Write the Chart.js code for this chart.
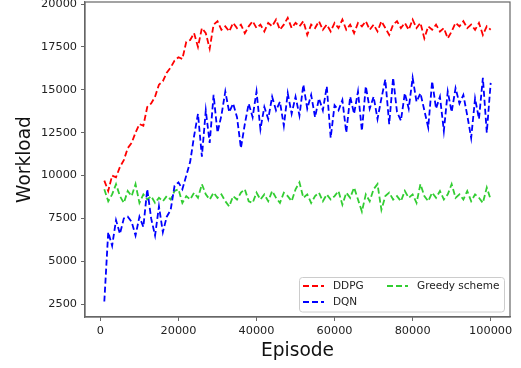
<!DOCTYPE html>
<html>
<head>
<meta charset="utf-8">
<script src="https://cdn.jsdelivr.net/npm/chart.js@4.4.1/dist/chart.umd.min.js"></script>
<style>
  html, body { margin:0; padding:0; background:#fff; }
  #wrap { width:521px; height:368px; }
</style>
</head>
<body>
<div id="wrap"><canvas id="c" width="521" height="368"></canvas></div>
<script>
const EPISODES = [
  1000,2000,3000,4000,5000,6000,7000,8000,9000,10000,
  11000,12000,13000,14000,15000,16000,17000,18000,19000,20000,
  21000,22000,23000,24000,25000,26000,27000,28000,29000,30000,
  31000,32000,33000,34000,35000,36000,37000,38000,39000,40000,
  41000,42000,43000,44000,45000,46000,47000,48000,49000,50000,
  51000,52000,53000,54000,55000,56000,57000,58000,59000,60000,
  61000,62000,63000,64000,65000,66000,67000,68000,69000,70000,
  71000,72000,73000,74000,75000,76000,77000,78000,79000,80000,
  81000,82000,83000,84000,85000,86000,87000,88000,89000,90000,
  91000,92000,93000,94000,95000,96000,97000,98000,99000,100000
];

const DDPG = [
  9700,9100,10000,9900,10500,10900,11600,11900,12500,13000,
  12900,14000,14200,14600,15300,15500,16000,16300,16700,16900,
  16800,17800,17900,18300,17500,18600,18300,17400,18800,19000,
  18500,18700,18400,18900,18600,18800,18300,18700,19000,18600,
  18800,18400,18900,18700,19100,18500,18800,19200,18600,18900,
  18700,19000,18200,18800,18600,19000,18500,18800,18400,18900,
  18600,19100,18500,18800,18300,18900,18700,19000,18500,18800,
  18400,19000,18600,18200,18800,19000,18600,18900,18500,19100,
  18600,18900,18000,18700,18500,18800,18400,18600,18000,18400,
  18900,18700,19000,18600,18800,18500,18900,18200,18700,18500
];

const DQN = [
  2650,6700,5900,7400,6600,7500,7600,7300,6500,7600,
  7000,9200,7500,6500,8200,6700,7600,8000,9400,9600,
  9200,10000,10800,12300,13600,11100,13800,11900,14700,12500,
  13500,14900,13700,14200,13400,11600,13000,14200,13400,14900,
  12700,14000,13300,14600,13800,14300,12900,14800,13600,14600,
  13500,15300,13900,14700,13400,14500,13800,15200,12200,14100,
  13800,14400,12500,14600,13600,14900,12600,15200,13900,14600,
  13300,14500,15600,13000,15700,13700,13200,14800,13900,15700,
  14300,14800,13800,12800,15500,13900,14600,12600,14900,13700,
  15100,14200,14700,13500,12200,14500,13300,15700,12500,15400
];

const GREEDY = [
  9200,8500,8900,9500,8800,8400,9100,8800,9500,8400,
  8900,8600,8800,8400,8700,8500,8800,8600,9100,9200,
  8400,8800,8600,9000,8700,9500,8900,8600,9000,8700,
  8900,8500,8200,8800,8600,9000,9200,8500,8400,9000,
  8600,8900,8500,9100,8700,8400,9000,8800,8500,9200,
  9600,8700,8900,8400,8800,9000,8500,8900,8600,8800,
  9100,8300,9000,8700,9300,8600,7900,8900,8500,9200,
  9500,8000,8800,9000,8600,8800,8500,9100,8700,8900,
  8400,9500,8800,8500,9000,8700,9100,8600,8900,9500,
  8700,8900,8600,9100,8500,8900,8700,8400,9300,8600
];

const X_TICKS = [0, 20000, 40000, 60000, 80000, 100000];
const Y_TICKS = [2500, 5000, 7500, 10000, 12500, 15000, 17500, 20000];

const FONT = "'DejaVu Sans', sans-serif";
const SPINE = '#666666';

const pts = vals => vals.map((v, i) => ({x: EPISODES[i], y: v}));

function series(label, vals, color) {
  return {
    label, data: pts(vals),
    borderColor: color, backgroundColor: color,
    borderWidth: 1.8, borderDash: [6, 3],
    pointRadius: 0, tension: 0, fill: false
  };
}

// top/right spines, like a matplotlib frame
const frame = {
  id: 'frame',
  afterDatasetsDraw(chart) {
    const {ctx, chartArea: a} = chart;
    ctx.save();
    ctx.strokeStyle = SPINE;
    ctx.lineWidth = 1.2;
    ctx.strokeRect(a.left, a.top, a.right - a.left, a.bottom - a.top);
    ctx.restore();
  }
};

// two-column legend in the lower right corner
const legendBox = {
  id: 'legendBox',
  afterDraw(chart) {
    const {ctx} = chart;
    const ds = chart.data.datasets;
    const slots = [
      {x: 303, y: 286}, {x: 303, y: 302}, {x: 387, y: 286}
    ];
    ctx.save();
    ctx.fillStyle = 'rgba(255,255,255,0.8)';
    ctx.strokeStyle = '#cccccc';
    ctx.lineWidth = 1;
    ctx.beginPath();
    ctx.roundRect(299.5, 277.5, 205, 34.5, 3);
    ctx.fill();
    ctx.stroke();
    ctx.font = '10.5px ' + FONT;
    ctx.textBaseline = 'middle';
    ds.forEach((d, i) => {
      const s = slots[i];
      ctx.strokeStyle = d.borderColor;
      ctx.lineWidth = d.borderWidth;
      ctx.setLineDash(d.borderDash);
      ctx.beginPath();
      ctx.moveTo(s.x, s.y);
      ctx.lineTo(s.x + 21, s.y);
      ctx.stroke();
      ctx.setLineDash([]);
      ctx.fillStyle = '#222';
      ctx.fillText(d.label, s.x + 30, s.y + 0.5);
    });
    ctx.restore();
  }
};

new Chart(document.getElementById('c'), {
  type: 'line',
  data: {
    datasets: [
      series('DDPG', DDPG, '#ff0000'),
      series('DQN', DQN, '#0000ff'),
      series('Greedy scheme', GREEDY, '#32cd32')
    ]
  },
  options: {
    responsive: false,
    animation: false,
    layout: { padding: { top: 2, right: 11, left: 0, bottom: 0 } },
    plugins: { legend: { display: false }, tooltip: { enabled: false } },
    scales: {
      x: {
        type: 'linear', min: -3950, max: 104950,
        afterBuildTicks: s => { s.ticks = X_TICKS.map(v => ({value: v})); },
        afterFit: s => { s.height = 51; s.paddingLeft = 0; s.paddingRight = 0; },
        grid: { drawOnChartArea: false, drawTicks: true, tickLength: 4, color: SPINE, tickWidth: 1 },
        border: { display: true, color: SPINE, width: 1.2 },
        ticks: { callback: v => String(v), color: '#222', padding: 3, maxRotation: 0,
                 font: { family: FONT, size: 11.3 } },
        title: { display: true, text: 'Episode', color: '#111',
                 font: { family: FONT, size: 18.6 }, padding: { top: 0, bottom: 6 } }
      },
      y: {
        type: 'linear', min: 1750, max: 20120,
        afterBuildTicks: s => { s.ticks = Y_TICKS.map(v => ({value: v})); },
        afterFit: s => { s.width = 85; s.paddingTop = 0; s.paddingBottom = 0; },
        grid: { drawOnChartArea: false, drawTicks: true, tickLength: 4, color: SPINE, tickWidth: 1 },
        border: { display: true, color: SPINE, width: 1.2 },
        ticks: { callback: v => String(v), color: '#222', padding: 4,
                 font: { family: FONT, size: 11.3 } },
        title: { display: true, text: 'Workload', color: '#111',
                 font: { family: FONT, size: 18.6 }, padding: { top: 14, bottom: 0 } }
      }
    }
  },
  plugins: [frame, legendBox]
});
</script>
</body>
</html>
